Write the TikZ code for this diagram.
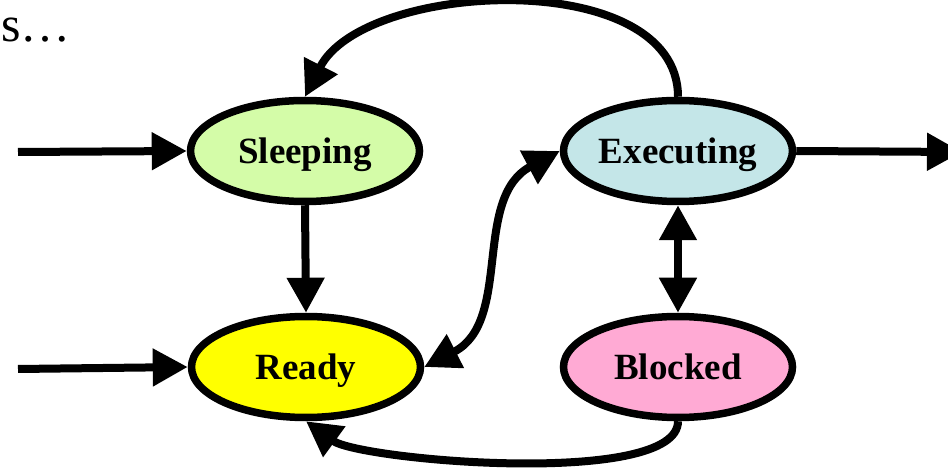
\documentclass[tikz,border=0pt]{standalone}
\usepackage{fontspec}
\setmainfont{Liberation Serif}
\usetikzlibrary{shapes.geometric,arrows.meta}

\definecolor{sleepfill}{RGB}{212,252,168}
\definecolor{execfill}{RGB}{196,230,232}
\definecolor{readyfill}{RGB}{255,255,0}
\definecolor{blockfill}{RGB}{255,170,212}

\tikzset{
  state/.style={ellipse, draw=black, line width=7.5pt, inner sep=0pt,
    minimum width=229pt, minimum height=101pt,
    text height=25pt, text depth=0pt,
    font=\bfseries\fontsize{37}{40}\selectfont},
  conn/.style={line width=8pt, -{Triangle[length=35pt,width=36pt]}},
  biconn/.style={line width=8pt, {Triangle[length=35pt,width=36pt]}-{Triangle[length=35pt,width=36pt]}}
}

\begin{document}
\begin{tikzpicture}[x=1pt,y=1pt]
  \clip (0,0) rectangle (948,-470);

  % partial heading text
  \node[anchor=base west, inner sep=0pt, font=\fontsize{50}{55}\selectfont] (head) at (1,-42) {s…};

  % states
  \node[state, fill=sleepfill] (sleep) at (305,-151) {Sleeping};
  \node[state, fill=execfill]  (exec)  at (678,-151) {Executing};
  \node[state, fill=readyfill] (ready) at (306,-367) {Ready};
  \node[state, fill=blockfill] (block) at (678,-367) {Blocked};

  % free ends of the entry and exit arrows
  \coordinate (inS) at (18,-152);
  \coordinate (inR) at (18,-369);
  \coordinate (out) at (962,-152);

  % transitions
  \draw[conn] (inS) -- (sleep.west);
  \draw[conn] (inR) -- (ready.west);
  \draw[conn] (exec.east) -- (out);
  \draw[conn] (sleep.south) -- (ready.north);
  \draw[biconn] (exec.south) -- (block.north);
  \draw[biconn] (ready.east) to[out=27,in=208] (exec.west);
  \draw[conn] (exec.north) to[out=90,in=63,looseness=0.9] (sleep.north);
  \draw[conn] (block.south) to[out=-90,in=-36,looseness=0.46] (ready.south);
\end{tikzpicture}
\end{document}
